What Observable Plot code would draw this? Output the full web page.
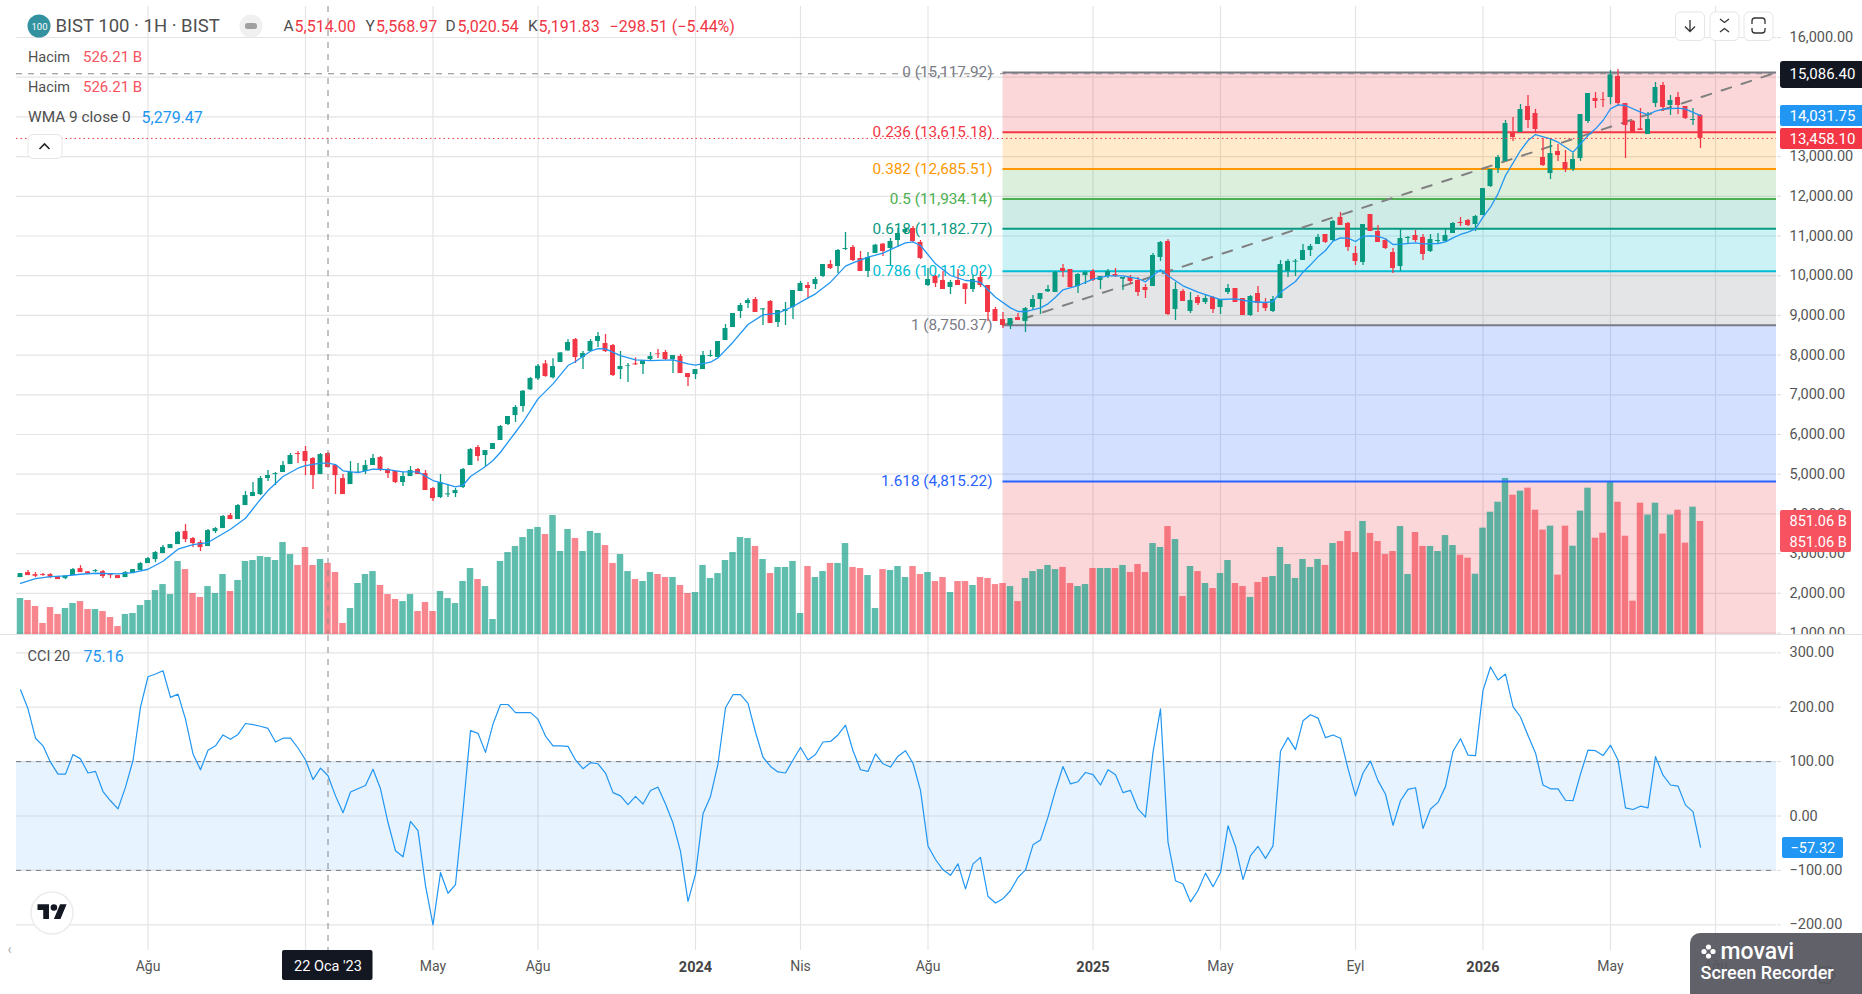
<!DOCTYPE html>
<html><head><meta charset="utf-8">
<script src="https://cdn.jsdelivr.net/npm/d3@7"></script>
<script src="https://cdn.jsdelivr.net/npm/@observablehq/plot@0.6"></script>
<style>html,body{margin:0;padding:0;background:#fff;overflow:hidden}svg{display:block}</style>
</head><body><div id="chart"></div>
<script>
const open=[2396,2522,2471,2471,2471,2421,2370,2446,2622,2538,
2547,2547,2471,2446,2396,2496,2572,2748,2849,3000,
3126,3227,3555,3378,3278,3177,3555,3630,3958,3857,
4210,4437,4487,4890,4991,5042,5243,5520,5571,5394,
4991,5520,5218,4890,4739,5025,5067,5218,5420,5117,
5067,4790,4941,5117,5016,4638,4412,4479,4512,4664,
5218,5672,5470,5621,5848,6251,6478,6704,7124,7401,
7779,7426,7813,8107,8392,7939,8090,8342,8291,8241,
7636,7712,7779,7762,7888,8031,8065,7888,7964,7535,
7510,7636,7964,7939,8367,8695,9098,9299,9400,9140,
9350,8821,9098,9199,9602,9753,9778,9980,10282,10232,
10660,10711,10433,10106,10559,10795,10685,10887,11089,11189,
10837,9753,9980,9879,9703,9879,9795,9652,9955,9753,
9148,8896,8745,8947,8846,9199,9400,9593,9577,10181,
10156,9728,10005,10106,9879,9980,10030,9913,9955,9879,
9703,9728,10459,10862,9148,9602,9098,9451,9325,9451,
9199,9577,9677,9425,8997,9551,9299,9098,9425,10106,
10341,10383,10635,10786,11038,10887,11467,11315,10559,10333,
11542,11114,10887,10585,10232,10937,11013,10963,10610,10862,
10862,11063,11341,11391,11290,11515,12246,12699,12876,13607,
13607,14262,14085,12977,12573,13128,12851,12674,12951,13884,
14463,14438,14489,15018,14337,13884,13699,13556,14337,14791,
14287,14489,14262,13909,14035];
const high=[2496,2572,2522,2496,2496,2421,2438,2622,2698,2547,
2597,2572,2471,2446,2547,2597,2774,2900,3051,3202,
3227,3555,3731,3404,3328,3605,3656,3958,4008,4235,
4563,4790,4941,5092,5042,5319,5520,5571,5697,5420,
5520,5546,5243,4991,5319,5268,5344,5495,5445,5142,
5067,5042,5193,5142,5092,4664,4991,4714,4638,5142,
5646,5722,5596,5772,6226,6453,6730,7107,7435,7762,
7863,7905,8056,8384,8417,8090,8392,8569,8518,8266,
8090,7787,7930,7855,8065,8140,8115,7989,8014,7535,
7636,8090,8115,8342,8770,9047,9299,9425,9451,9165,
9375,9123,9325,9627,9854,9829,9955,10282,10383,10660,
11089,10761,10610,10585,10786,10811,10937,11189,11189,11240,
10887,10181,10005,10106,9879,10156,9795,10005,10106,9753,
9199,9073,8921,9047,9199,9501,9551,9753,10106,10282,
10156,10055,10106,10156,9980,10156,10181,9955,10005,9955,
9778,10559,10862,10912,9829,9652,9577,9501,9526,9476,
9400,9778,9677,9425,9501,9728,9425,9476,10383,10408,
10408,10786,10786,11038,11038,11391,11593,11341,10736,11290,
11542,11265,10937,10685,11189,10988,11139,11038,11038,11063,
11164,11341,11467,11416,11517,12195,12674,13027,13909,13985,
14312,14539,14186,13455,13430,13304,13153,13077,14060,14589,
14615,14615,15169,15194,14337,13909,14211,14111,14867,14867,
14539,14615,14262,14211,14060];
const low=[2396,2446,2396,2429,2370,2345,2345,2446,2522,2471,
2522,2370,2370,2370,2396,2496,2572,2748,2774,3000,
3126,3227,3278,3152,3051,3177,3504,3630,3857,3857,
4210,4437,4462,4815,4714,5042,5243,5268,4966,4613,
4991,5168,4487,4487,4739,5025,4991,5218,5067,4890,
4764,4689,4941,4991,4588,4311,4386,4412,4412,4638,
5218,5319,5193,5621,5848,6226,6302,6561,7107,7359,
7443,7401,7813,8090,7787,7636,8090,8191,8065,7460,
7384,7309,7737,7510,7838,7913,7863,7535,7535,7208,
7384,7636,7947,7939,8367,8695,8921,9173,9073,8745,
8795,8695,8745,8896,9602,9425,9652,9955,10156,10055,
10635,10358,10106,9955,10559,10484,10257,10711,11038,10837,
10408,9728,9703,9652,9526,9753,9274,9577,9703,8846,
8846,8669,8644,8871,8569,9123,9022,9577,9577,9955,
9703,9551,9778,9854,9652,9929,9955,9627,9778,9476,
9425,9728,10358,8997,8871,9350,9047,9249,9274,9047,
9022,9526,9325,8997,8972,9073,9098,9073,9425,9955,
9980,10383,10484,10786,10811,10862,11265,10610,10257,10257,
11114,10837,10660,10055,10106,10811,10837,10383,10585,10811,
10837,11063,11240,11240,11114,11515,12221,12573,12876,13380,
13607,13707,13581,12750,12422,12876,12599,12624,12876,13833,
14211,14237,14304,14262,12951,13607,13657,13556,14237,14136,
14035,14060,13934,13783,13203];
const close=[2496,2446,2429,2446,2396,2345,2438,2597,2522,2496,
2572,2421,2446,2370,2522,2597,2748,2874,3026,3152,
3227,3530,3353,3252,3152,3580,3630,3933,3857,4210,
4462,4538,4890,4966,5016,5218,5470,5495,5319,4966,
5495,5168,4966,4487,5042,5050,5218,5394,5117,5016,
4790,4941,5092,4991,4588,4386,4790,4504,4588,5117,
5621,5445,5596,5772,6201,6453,6680,7090,7409,7720,
7460,7712,8056,8317,7939,8039,8342,8468,8090,7485,
7712,7729,7754,7855,7964,8014,7888,7989,7535,7435,
7636,7989,7989,8342,8669,9047,9249,9375,9073,9165,
8795,9123,9148,9627,9803,9677,9904,10282,10181,10635,
10685,10383,10106,10459,10769,10610,10862,11063,11164,10862,
10433,9904,9803,9652,9829,9753,9652,9904,9753,9073,
8846,8745,8921,8871,9173,9400,9551,9652,10081,10106,
9703,10030,10081,9879,9980,10106,9980,9955,9854,9577,
9627,10509,10837,9022,9652,9350,9375,9299,9425,9148,
9400,9677,9325,8997,9476,9299,9173,9400,10282,10358,
10366,10635,10736,10963,10837,11366,11265,10711,10358,11290,
11114,10837,10685,10181,10937,10963,10887,10534,10912,10887,
11013,11315,11315,11265,11492,12195,12674,12977,13833,13481,
14186,13909,13682,12775,13077,13027,12674,12926,14060,14589,
14388,14421,15060,14337,13783,13607,13657,13934,14741,14237,
14413,14287,13959,13934,13458.1];
const volumeB=[271,256,211,83,203,151,196,233,248,188,
188,173,128,60,151,158,218,256,331,376,
301,550,489,309,279,361,309,452,324,407,
550,557,587,580,557,693,602,520,655,520,
565,535,467,83,196,384,452,474,369,301,
264,248,301,173,241,173,324,271,233,399,
497,414,361,113,550,617,663,730,791,806,
753,896,625,791,723,625,776,761,670,535,
602,474,414,399,467,452,429,429,369,309,
316,520,422,459,557,617,730,723,663,565,
459,505,505,550,158,512,429,474,535,535,
685,505,497,444,196,489,482,512,429,512,
452,467,399,429,316,399,399,369,429,422,
376,384,361,248,422,474,489,520,489,505,
384,361,376,497,497,497,497,520,467,527,
467,685,655,813,715,286,512,474,384,346,
459,557,384,361,279,392,429,437,655,527,
422,565,505,565,520,685,700,776,617,851,
761,700,602,625,813,452,768,663,663,625,
745,670,597,575,454,801,921,996,1175,1049,
1079,1102,936,786,816,447,816,665,929,1102,
725,763,1145,996,740,251,989,899,989,756,
899,936,688,959,851.06];
const cci=[232,197,143,129,99,77,77,113,105,79,82,45,28,13,53,102,200,256,261,267,218,224,178,114,85,121,129,149,141,150,170,168,165,161,136,143,143,125,103,67,88,74,37,6,44,50,56,86,50,-12,-64,-75,-10,-27,-128,-200,-104,-142,-126,10,157,152,117,169,205,205,190,190,190,178,147,129,129,128,103,87,98,96,79,43,37,21,36,
22,47,53,22,-13,-65,-157,-107,4,36,96,199,223,223,207,154,108,91,81,79,103,126,103,113,136,137,149,167,120,85,82,114,96,90,110,120,97,47,-55,-80,-99,-109,-88,-134,-88,-76,-148,-160,-152,-137,-113,-99,-53,-44,-2,47,91,59,63,80,76,57,85,76,43,47,13,-2,117,197,-48,-119,-125,-158,-137,-105,-130,-104,-18,-56,-117,-73,-56,
-78,-55,119,144,122,175,186,180,144,149,143,87,37,79,101,65,40,-17,28,49,52,-23,13,25,54,119,142,112,111,231,274,250,261,201,182,148,116,57,50,50,29,28,77,121,120,111,130,103,15,12,18,15,109,75,57,55,20,8,-57.32];
const wmaBar=[0,2,4,6,8,10,13,15,17,19,21,23,25,28,30,32,33,35,37,38,40,41,42,43,45,47,49,51,53,55,57,58,59,60,62,63,64,65,66,67,69,71,73,74,76,77,78,80,82,84,87,89,90,92,93,95,97,99,101,103,104,106,108,110,111,113,115,117,118,119,120,122,124,126,127,128,130,132,133,134,136,137,138,139,141,143,145,147,149,150,151,152,153,155,157,158,160,162,164,166,167,168,170,171,172,173,174,175,176,177,178,179,180,181,182,183,184,186,187,189,190,191,192,193,194,195,196,197,198,199,200,201,202,204,205,207,208,209,210,211,212,213,214,216,217,218,219,221,222,224];
const wmaValue=[2253,2370,2421,2438,2480,2505,2488,2522,2606,2807,3110,3227,3278,3614,3891,4370,4588,4941,5151,5218,5277,5279.47,5243,5084,5042,5126,5117,5058,5058,4840,4739,4680,4722,4941,5193,5344,5553,5806,6057,6309,6897,7275,7737,7838,8098,8165,8157,7989,7880,7863,7880,7779,7745,7821,7930,8325,8770,9014,9056,9224,9333,9543,9837,10240,10324,10467,10568,10744,10828,10853,10761,10299,10005,9879,9871,9829,9459,9190,9098,9098,9190,9291,9459,9644,9753,9913,9997,9997,9929,9845,10005,10148,9997,9745,9585,9526,9400,9417,9350,9325,9350,9585,9854,10089,10274,10475,10635,10870,10954,10946,10862,10988,11005,10988,10929,10786,10795,10828,10803,10811,10853,10954,11038,11097,11179,11473,11725,12061,12523,12834,13153,13405,13556,13447,13363,13111,13321,13531,13699,13909,14203,14304,14287,14119,14060,14144,14195,14220,14195,14031.75];
const fibPrice=[15117.92,13615.18,12685.51,11934.14,11182.77,10113.02,8750.37,4815.22];
const fibLevel=["0","0.236","0.382","0.5","0.618","0.786","1","1.618"];
const fibColor=["#787b86","#f23645","#ff9800","#4caf50","#089981","#00bcd4","#787b86","#2962ff"];
const fibFill=["#f23645","#ff9800","#4caf50","#089981","#00bcd4","#787b86","#2962ff","#f23645"];
const priceTicks=[1000,2000,3000,4000,5000,6000,7000,8000,9000,10000,11000,12000,13000,14000,15000,16000];
const cciTicks=[300,200,100,0,-100,-200];
const monthBars=[17,55,69,104,121,160,178,212,226];
const monthLabels=["Ağu","May","Ağu","Nis","Ağu","May","Eyl","May","Ağu"];
const yearBars=[90,143,195];
const yearLabels=["2024","2025","2026"];
const gridBars=[17,38,55,69,90,104,121,143,160,178,195,212,226];
const crossBar=41, crossPrice=15086.40, lastPrice=13458.10;

const FONT="Roboto, sans-serif", GREY="#4f4f4f", GREEN="#089981", RED="#f23645", BLUE="#2196f3", SOFTRED="#f7525f";
const ix=px=>(px-20)/7.5, PXP=0.0397;
const vy=py=>1000+(632.5-py)/PXP;
const cy=py=>300+(652.3-py)/0.544;
const xDomain=[ix(16),ix(1776)];
const bars=d3.range(close.length).map(i=>({i,o:open[i],h:high[i],l:low[i],c:close[i],v:volumeB[i],up:close[i]>=open[i]}));
const volY=v=>vy(634)+v/7.53/PXP;
const col=d=>d.up?GREEN:RED;

const txt=(yf)=>(s,px,py,o={})=>Plot.text([s],{x:ix(px),y:yf(py),text:d=>d,textAnchor:"start",fontSize:14.5,fill:GREY,...o});
const t1=txt(vy), t2=txt(cy);
const box=(yf)=>(x1,x2,y1,y2,fill,o={})=>Plot.rect([0],{x1:ix(x1),x2:ix(x2),y1:yf(y2),y2:yf(y1),fill,...o});
const b1=box(vy), b2=box(cy);

const shapes=()=>{const g=d3.create("svg:g");
 const btn=(x,y,w,h)=>g.append("rect").attr("x",x).attr("y",y).attr("width",w).attr("height",h).attr("rx",5).attr("fill","#fff").attr("stroke","#e6e6e6");
 const path=(d,s="#333",w=1.3)=>g.append("path").attr("d",d).attr("fill","none").attr("stroke",s).attr("stroke-width",w);
 btn(1675.5,12,29,28.5);btn(1710,12,29,28.5);btn(1744,12,29,28.5);
 path("M1690 20V31M1685 26.5l5 5 5-5");
 path("M1720 19l4.5 3.5 4.5-3.5M1720 32l4.5-3.5 4.5 3.5");
 path("M1752 24v-3a3 3 0 0 1 3-3h7a3 3 0 0 1 3 3v3M1752 28v2a3 3 0 0 0 3 3h7a3 3 0 0 0 3-3v-2");
 btn(28,134.5,34,24);
 path("M39.5 149l5-5 5 5","#222",1.6);
 g.append("circle").attr("cx",39).attr("cy",26).attr("r",11.5).attr("fill","#33929f");
 g.append("circle").attr("cx",251).attr("cy",26).attr("r",11.5).attr("fill","#f0f0f0");
 g.append("rect").attr("x",245).attr("y",23).attr("width",12).attr("height",6).attr("rx",2.5).attr("fill","#a0a0a0");
 return g.node();};

const main=Plot.plot({width:1862,height:635,marginLeft:16,marginRight:86,marginTop:6,marginBottom:1,
 style:{fontFamily:FONT,background:"#fff",overflow:"hidden"},
 x:{type:"linear",domain:xDomain,axis:null},
 y:{type:"linear",domain:[1000,16000],range:[632.5,37],axis:null},
 marks:[
  Plot.gridY(priceTicks,{stroke:"#e4e4e4",strokeOpacity:1,strokeWidth:1.2}),
  Plot.gridX(gridBars,{stroke:"#e4e4e4",strokeOpacity:1,strokeWidth:1.2}),
  Plot.rect(fibPrice,{x1:131,x2:xDomain[1],y1:d=>d,y2:(d,i)=>i<7?fibPrice[i+1]:vy(634),fill:(d,i)=>fibFill[i],fillOpacity:.2}),
  Plot.rect(bars,{x1:d=>d.i-.43,x2:d=>d.i+.43,y1:vy(634),y2:d=>volY(d.v),fill:col,fillOpacity:d=>d.up?.65:.6}),
  Plot.ruleY(fibPrice,{x1:131,x2:xDomain[1],y:d=>d,stroke:(d,i)=>fibColor[i],strokeWidth:2}),
  Plot.text(fibPrice,{x:ix(992),y:d=>d,text:(d,i)=>`${fibLevel[i]} (${d3.format(",.2f")(d)})`,fill:(d,i)=>fibColor[i],textAnchor:"end",fontSize:15.3}),
  Plot.line([[131,8750.37],[xDomain[1],15117.92]],{x:d=>d[0],y:d=>d[1],stroke:"#808080",strokeWidth:2,strokeDasharray:"10 11"}),
  Plot.ruleX(bars,{x:"i",y1:"l",y2:"h",stroke:col,strokeWidth:1.3}),
  Plot.rect(bars,{x1:d=>d.i-.33,x2:d=>d.i+.33,y1:d=>Math.min(d.o,d.c),y2:d=>Math.max(d.o,d.c),fill:col}),
  Plot.line(wmaBar,{x:d=>d,y:(d,i)=>wmaValue[i],stroke:BLUE,strokeWidth:1.3}),
  Plot.ruleY([lastPrice],{stroke:RED,strokeWidth:1,strokeDasharray:"1.5 3"}),
  Plot.ruleY([crossPrice],{stroke:"#888",strokeWidth:1,strokeDasharray:"6 6"}),
  Plot.ruleX([crossBar],{stroke:"#888",strokeWidth:1,strokeDasharray:"6 6"}),
  Plot.axisY(priceTicks,{anchor:"right",tickSize:4,tickPadding:9,stroke:"#e0e0e0",fill:"#555",fontSize:14.5,tickFormat:d3.format(",.2f"),label:null}),
  shapes,
  t1("100",39,26,{textAnchor:"middle",fill:"#fff",fontSize:9.5}),
  t1("BIST 100 · 1H · BIST",55,26,{fontSize:18.5}),
  t1("A",283,26,{fontSize:15.5}),t1("5,514.00",294,26,{fill:RED,fontSize:16}),
  t1("Y",365,26,{fontSize:15.5}),t1("5,568.97",375.5,26,{fill:RED,fontSize:16}),
  t1("D",445,26,{fontSize:15.5}),t1("5,020.54",457,26,{fill:RED,fontSize:16}),
  t1("K",527.5,26,{fontSize:15.5}),t1("5,191.83",538,26,{fill:RED,fontSize:16}),
  t1("−298.51 (−5.44%)",609,26,{fill:RED,fontSize:16}),
  t1("Hacim",27.5,57),t1("526.21 B",82.5,57,{fill:SOFTRED,fontSize:15}),
  t1("Hacim",27.5,87),t1("526.21 B",82.5,87,{fill:SOFTRED,fontSize:15}),
  t1("WMA 9 close 0",27.5,117,{fontSize:15.4}),t1("5,279.47",141,117,{fill:BLUE,fontSize:16}),
  b1(1780,1868,61,88,"#131722",{rx:3}),t1("15,086.40",1789,74,{fill:"#fff",fontSize:15}),
  b1(1780,1868,105,126,BLUE,{rx:2}),t1("14,031.75",1789,115.5,{fill:"#fff",fontSize:15}),
  b1(1780,1868,128,149,RED,{rx:2}),t1("13,458.10",1789,138.5,{fill:"#fff",fontSize:15}),
  b1(1780,1851,510,552,SOFTRED,{rx:2}),t1("851.06 B",1789,520.7,{fill:"#fff"}),t1("851.06 B",1789,541.7,{fill:"#fff"}),
  Plot.ruleY([vy(634)],{stroke:"#e0e0e0",x1:ix(0),x2:ix(1862)})
 ]});

const logo=()=>{const g=d3.create("svg:g").attr("transform","translate(0,-635)");
 g.append("circle").attr("cx",52).attr("cy",913).attr("r",21).attr("fill","#fff").attr("stroke","#ececec").attr("stroke-width",1.5);
 const l=g.append("g").attr("transform","translate(37.5,901) scale(.82)");
 l.append("path").attr("d","M14 22H7V11H0V4h14v18zM28 22h-8l7.5-18h8L28 22z").attr("fill","#131722");
 l.append("circle").attr("cx",20).attr("cy",8).attr("r",4).attr("fill","#131722");
 g.append("path").attr("d","M1815 975l5-8h10l5 8-5 8h-10z").attr("fill","none").attr("stroke","#222").attr("stroke-width",1.2);
 return g.node();};
const wm=()=>{const g=d3.create("svg:g").attr("transform","translate(0,-635)");
 g.append("rect").attr("x",1690).attr("y",933).attr("width",190).attr("height",70).attr("rx",10).attr("fill","#55555f").attr("fill-opacity",.93);
 [[1708.5,947],[1704,951.5],[1713,951.5],[1708.5,956]].forEach(([x,y])=>g.append("circle").attr("cx",x).attr("cy",y).attr("r",2.6).attr("fill","#fff"));
 return g.node();};

const cciPane=Plot.plot({width:1862,height:359,marginLeft:16,marginRight:86,marginTop:0,marginBottom:44,
 style:{fontFamily:FONT,background:"#fff",overflow:"hidden"},
 x:{type:"linear",domain:xDomain,axis:null},
 y:{type:"linear",domain:[-200,300],range:[289.3,17.3],axis:null},
 marks:[
  Plot.gridY(cciTicks,{stroke:"#e4e4e4",strokeOpacity:1,strokeWidth:1.2}),
  Plot.gridX(gridBars,{stroke:"#e4e4e4",strokeOpacity:1,strokeWidth:1.2}),
  Plot.rect([0],{x1:xDomain[0],x2:xDomain[1],y1:-100,y2:100,fill:BLUE,fillOpacity:.11}),
  Plot.ruleY([100,-100],{stroke:"#787b86",strokeWidth:1,strokeDasharray:"5 5"}),
  Plot.line(cci,{x:(d,i)=>i,y:d=>d,stroke:BLUE,strokeWidth:1.2}),
  Plot.ruleX([crossBar],{stroke:"#888",strokeWidth:1,strokeDasharray:"6 6"}),
  Plot.axisY(cciTicks,{anchor:"right",tickSize:4,tickPadding:9,stroke:"#e0e0e0",fill:"#555",fontSize:14.5,tickFormat:d3.format(",.2f"),label:null}),
  Plot.axisX(monthBars,{anchor:"bottom",tickSize:0,tickPadding:11,fill:"#555",fontSize:14,tickFormat:d=>monthLabels[monthBars.indexOf(d)],label:null}),
  Plot.axisX(yearBars,{anchor:"bottom",tickSize:0,tickPadding:11,fill:"#444",fontSize:14.5,fontWeight:"bold",tickFormat:d=>yearLabels[yearBars.indexOf(d)],label:null}),
  logo,
  t2("CCI 20",27,656),t2("75.16",83,656,{fill:BLUE,fontSize:16}),
  t2("‹",7,949,{fill:"#aaa",fontSize:14}),
  b2(282,372.5,950,980,"#131722",{rx:2}),t2("22 Oca '23",327.5,965.5,{fill:"#fff",textAnchor:"middle",fontSize:14.5}),
  b2(1782,1843,837,858,BLUE,{rx:2}),t2("−57.32",1790,847.5,{fill:"#fff"}),
  wm,
  t2("movavi",1720,951,{fill:"#fff",fontSize:23,fontWeight:500}),
  t2("Screen Recorder",1700,973,{fill:"#fff",fontSize:18,fontWeight:500,letterSpacing:"1.1px"})
 ]});

document.getElementById("chart").append(main,cciPane);
</script></body></html>
